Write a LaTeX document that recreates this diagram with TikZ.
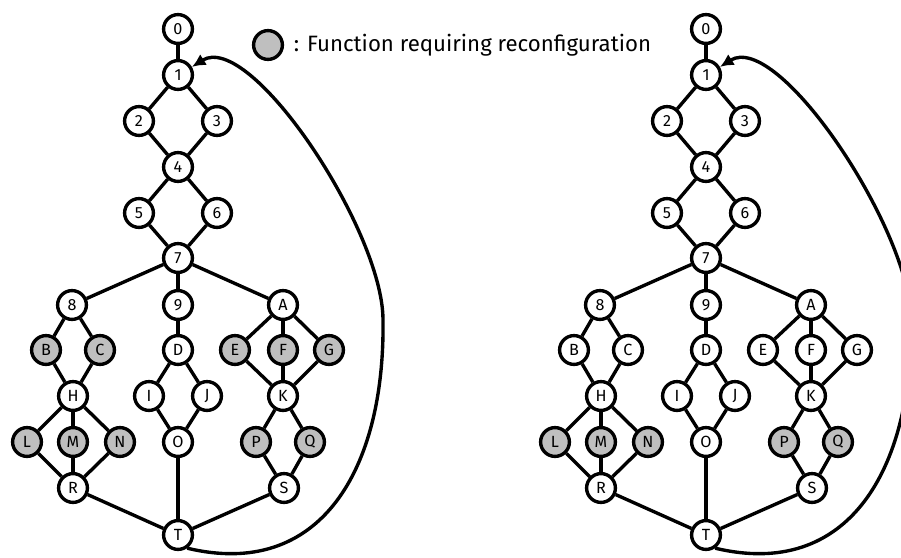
\documentclass[tikz,border=0pt]{standalone}
\usepackage{fontspec}
\setmainfont{Fira Sans}
\usetikzlibrary{arrows.meta,positioning}

\tikzset{
    fn/.style={circle, draw, line width=2.4pt, fill=white, minimum size=0.72cm, inner sep=0pt, font=\fontsize{11.5}{11.5}\selectfont},
    rfn/.style={fn, fill=gray!50},
    chg/.style={fn, fill=\selfill},
    wire/.style={line width=2.4pt},
    back/.style={line width=2.4pt, -{Latex[length=3.4mm,width=3.2mm]}}
}

\begin{document}
\begin{tikzpicture}[x=0.025cm, y=-0.025cm]
    \useasboundingbox (0,0) rectangle (901,558);

    % Legend
    \node[rfn] (key) at (268,45) {};
    \node[right=0.12cm of key, font=\fontsize{15.8}{15.8}\selectfont] (keytext) {: Function requiring reconfiguration};

    % Both graphs (left: before, right: after)
    \foreach \g/\dx/\selfill in {l/0/gray!50, r/528/white} {
        \begin{scope}[shift={(\dx,0)}]
            % Functions
            \foreach \n/\x/\y/\s in {0/178/29/fn, 1/178/75/fn, 2/139/121/fn, 3/217/121/fn, 4/178/167/fn,
                5/139/213/fn, 6/217/213/fn, 7/178/258/fn,
                8/72/305/fn, 9/178/305/fn, A/283/305/fn,
                B/46/350/chg, C/100/350/chg, D/178/350/fn, E/235/350/chg, F/283/350/chg, G/329/350/chg,
                H/73/396/fn, I/149/396/fn, J/207/396/fn, K/283/396/fn,
                L/27/442/rfn, M/73/442/rfn, N/120/442/rfn, O/178/442/fn, P/256/442/rfn, Q/310/442/rfn,
                R/73/488/fn, S/284/488/fn, T/178/535/fn} {
                \node[\s] (\g\n) at (\x,\y) {\n};
            }

            % Dependencies
            \foreach \a/\b in {0/1, 1/2, 1/3, 2/4, 3/4, 4/5, 4/6, 5/7, 6/7, 7/8, 7/9, 7/A,
                8/B, 8/C, B/H, C/H, 9/D, D/I, D/J, I/O, J/O, A/E, A/F, A/G, E/K, F/K, G/K,
                H/L, H/M, H/N, L/R, M/R, N/R, K/P, K/Q, P/S, Q/S, R/T, O/T, S/T} {
                \draw[wire] (\g\a) -- (\g\b);
            }

            % Loop back to 1
            \draw[back] (\g T.-55) .. controls (320,580) and (385,470) .. (383,320)
                .. controls (383,230) and (250,30) .. (\g 1.30);
        \end{scope}
    }
\end{tikzpicture}
\end{document}
